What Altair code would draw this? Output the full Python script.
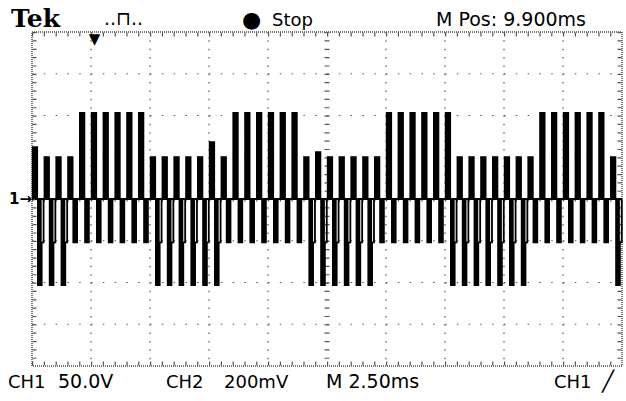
import altair as alt
import pandas as pd

# ---- scope settings ----
T_DOMAIN = [0, 25]          # ms  (10 div x 2.50 ms)
V_DOMAIN = [-200, 200]      # V   (8 div x 50.0 V)
time_grid = [2.5, 5, 7.5, 10, 15, 17.5, 20, 22.5]
volt_grid = [-150, -100, -50, 50, 100, 150]
center_t = [12.5]
center_v = [0]
trigger_t = [2.65]

# ---- PWM trace, one entry per 0.5 ms carrier period ----
carrier_ms = 0.5
pos_v = [62, 50, 50, 50, 103, 103, 103, 103, 103, 103,
         50, 50, 50, 50, 50, 68, 50, 103, 103, 103,
         103, 103, 103, 50, 56, 50, 50, 50, 50, 50,
         103, 103, 103, 103, 103, 103, 50, 50, 50, 50,
         50, 50, 50, 103, 103, 103, 103, 103, 103, 50]
neg_v = [-103, -103, -103, -52, -52, -52, -52, -52, -52, -52,
         -103, -103, -103, -103, -103, -103, -52, -52, -52, -52,
         -52, -52, -52, -103, -103, -103, -103, -103, -103, -52,
         -52, -52, -52, -52, -52, -103, -103, -103, -103, -103,
         -103, -103, -52, -52, -52, -52, -52, -52, -52, -103]
step_v = -52                # intermediate level after a full negative pulse
pos_window = [0.03, 0.22]   # ms within each carrier period
neg_window = [0.25, 0.41]
tail_end = 0.49

header_texts = ["Tek", "..\u2293..", "\u25CF", "Stop", "M Pos: 9.900ms"]
footer_texts = ["CH1", "50.0V", "CH2", "200mV", "M 2.50ms", "CH1", "\u2571"]

# ---- build tables ----
line_rows = []
bar_rows = []
for k, (p, n) in enumerate(zip(pos_v, neg_v)):
    t0 = k * carrier_ms
    line_rows += [(t0, 0), (t0 + pos_window[0], p), (t0 + pos_window[1], 0),
                  (t0 + neg_window[0], n)]
    bar_rows.append((t0 + pos_window[0], t0 + pos_window[1], p))
    bar_rows.append((t0 + neg_window[0], t0 + neg_window[1], n))
    if n < step_v:
        line_rows += [(t0 + neg_window[1], step_v), (t0 + tail_end, 0)]
    else:
        line_rows += [(t0 + neg_window[1], 0)]
line_rows.append((T_DOMAIN[1], 0))
trace = pd.DataFrame(line_rows, columns=["t", "v"])
trace["i"] = range(len(trace))
bars = pd.DataFrame(bar_rows, columns=["t0", "t1", "v"])

W, H = 590, 334
xs = alt.Scale(domain=T_DOMAIN, nice=False, zero=False)
ys = alt.Scale(domain=V_DOMAIN, nice=False, zero=False)
one = pd.DataFrame({"a": [0]})
DOT = "#555555"

hgrid = alt.Chart(pd.DataFrame({"v": volt_grid})).mark_rule(
    stroke=DOT, strokeWidth=1.2, strokeDash=[1.5, 10.3]
).encode(y=alt.Y("v:Q", scale=ys, axis=None), x=alt.value(0), x2=alt.value(W))

vgrid = alt.Chart(pd.DataFrame({"t": time_grid})).mark_rule(
    stroke=DOT, strokeWidth=1.2, strokeDash=[1.5, 6.85]
).encode(x=alt.X("t:Q", scale=xs, axis=None), y=alt.value(0), y2=alt.value(H))

vcenter = alt.Chart(pd.DataFrame({"t": center_t})).mark_rule(
    stroke=DOT, strokeWidth=5, strokeDash=[1.2, 7.15]
).encode(x=alt.X("t:Q", scale=xs), y=alt.value(0), y2=alt.value(H))

hcenter = alt.Chart(pd.DataFrame({"v": center_v})).mark_rule(
    stroke=DOT, strokeWidth=5, strokeDash=[1.2, 10.6]
).encode(y=alt.Y("v:Q", scale=ys), x=alt.value(0), x2=alt.value(W))

border = alt.Chart(one).mark_rect(
    fillOpacity=0, stroke="#777777", strokeWidth=2, strokeDash=[1, 1]
).encode(x=alt.value(0), x2=alt.value(W), y=alt.value(0), y2=alt.value(H))

def tick_row(y, dash):
    return alt.Chart(one).mark_rule(stroke=DOT, strokeWidth=4, strokeDash=dash).encode(
        y=alt.value(y), x=alt.value(0), x2=alt.value(W))

def tick_col(x, dash):
    return alt.Chart(one).mark_rule(stroke=DOT, strokeWidth=4, strokeDash=dash).encode(
        x=alt.value(x), y=alt.value(0), y2=alt.value(H))

ticks = (tick_row(2.5, [1.2, 10.6]) + tick_row(H - 2.5, [1.2, 10.6]) +
         tick_col(2.5, [1.2, 7.15]) + tick_col(W - 2.5, [1.2, 7.15]))

pulse_bars = alt.Chart(bars).mark_rect(color="black").encode(
    x=alt.X("t0:Q", scale=xs), x2="t1:Q",
    y=alt.Y("v:Q", scale=ys), y2=alt.datum(0))

zero_line = alt.Chart(pd.DataFrame({"v": center_v})).mark_rule(
    color="black", strokeWidth=2
).encode(y=alt.Y("v:Q", scale=ys), x=alt.value(3), x2=alt.value(W))

line = alt.Chart(trace).mark_line(
    interpolate="step-after", color="black", strokeWidth=1.8
).encode(x=alt.X("t:Q", scale=xs), y=alt.Y("v:Q", scale=ys), order="i:Q")

def label(text, x, y, size, font="DejaVu Sans", weight="normal", align="left"):
    return alt.Chart(one).mark_text(
        text=text, font=font, fontSize=size, fontWeight=weight, align=align,
        baseline="alphabetic", color="black"
    ).encode(x=alt.value(x), y=alt.value(y))

header = (label(header_texts[0], -21, -5, 25, font="DejaVu Serif", weight="bold") +
          label(header_texts[1], 72, -7, 19) +
          label(header_texts[2], 210, -5, 22) +
          label(header_texts[3], 240, -6, 18) +
          label(header_texts[4], 404, -6, 19))
footer = (label(footer_texts[0], -24, 356, 18) +
          label(footer_texts[1], 26, 356, 19) +
          label(footer_texts[2], 134, 356, 18) +
          label(footer_texts[3], 192, 356, 18) +
          label(footer_texts[4], 294, 356, 19) +
          label(footer_texts[5], 522, 356, 18) +
          label(footer_texts[6], 570, 356, 20))

ground = alt.Chart(one).mark_text(
    text="1\u2192", font="DejaVu Sans", fontSize=15, fontWeight="bold",
    align="right", baseline="middle", color="black"
).encode(x=alt.value(0), y=alt.value(H / 2))

trig = alt.Chart(pd.DataFrame({"t": trigger_t})).mark_text(
    text="\u25BC", font="DejaVu Sans", fontSize=15,
    baseline="top", color="black"
).encode(x=alt.X("t:Q", scale=xs), y=alt.value(0))

chart = alt.layer(
    hgrid, vgrid, vcenter, hcenter, border, ticks, zero_line, pulse_bars, line,
    header, footer, ground, trig
).properties(
    width=W, height=H,
    padding={"left": 32, "top": 32, "right": 4, "bottom": 35},
    autosize=alt.AutoSizeParams(type="none"),
    background="white"
).configure_view(stroke=None)

chart.save("out.html", embed_options={"renderer": "svg", "actions": False})
